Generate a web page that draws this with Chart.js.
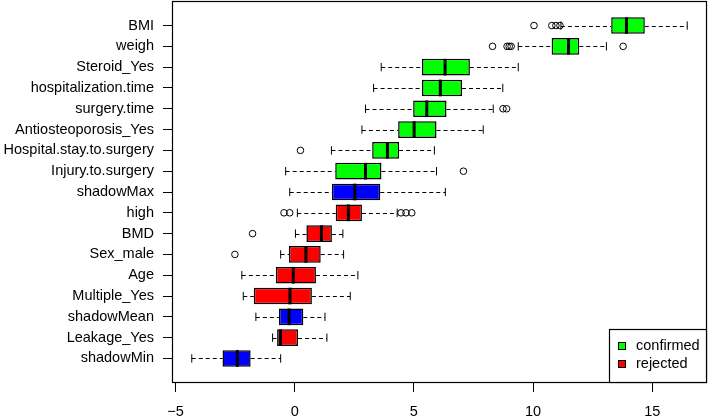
<!DOCTYPE html>
<html>
<head>
<meta charset="utf-8">
<script src="https://cdn.jsdelivr.net/npm/chart.js@4"></script>
<style>
  html, body { margin: 0; padding: 0; background: #fff; }
</style>
</head>
<body>
<canvas id="chart" width="709" height="416"></canvas>
<script>
// variables, listed top to bottom as in the figure
const labels = ["BMI", "weigh", "Steroid_Yes", "hospitalization.time", "surgery.time",
    "Antiosteoporosis_Yes", "Hospital.stay.to.surgery", "Injury.to.surgery", "shadowMax",
    "high", "BMD", "Sex_male", "Age", "Multiple_Yes", "shadowMean", "Leakage_Yes", "shadowMin"];
const decision = ["confirmed", "confirmed", "confirmed", "confirmed", "confirmed",
    "confirmed", "confirmed", "confirmed", "shadow",
    "rejected", "rejected", "rejected", "rejected", "rejected", "shadow", "rejected", "shadow"];

const whiskerLow = [11.17, 9.38, 3.63, 3.31, 2.97, 2.82, 1.54, -0.38, -0.21, 0.11, 0.03, -0.59, -2.22, -2.16, -1.63, -0.93, -4.32];
const q1 = [13.28, 10.78, 5.34, 5.34, 4.97, 4.34, 3.25, 1.70, 1.56, 1.72, 0.49, -0.24, -0.79, -1.72, -0.66, -0.74, -3.03];
const median = [13.92, 11.49, 6.31, 6.11, 5.54, 5.01, 3.89, 2.97, 2.52, 2.25, 1.12, 0.47, -0.06, -0.20, -0.24, -0.60, -2.41];
const q3 = [14.69, 11.94, 7.35, 7.02, 6.37, 5.95, 4.38, 3.64, 3.59, 2.82, 1.56, 1.09, 0.89, 0.72, 0.36, 0.14, -1.85];
const whiskerHigh = [16.47, 13.08, 9.38, 8.73, 8.33, 7.91, 5.86, 5.95, 6.32, 4.30, 2.02, 2.05, 2.65, 2.33, 1.27, 1.35, -0.59];
const outliers = [
    [10.04, 10.79, 10.96, 11.13],
    [8.30, 8.91, 9.00, 9.08, 13.78],
    [], [],
    [8.74, 8.89],
    [],
    [0.24],
    [7.08],
    [],
    [-0.45, -0.21, 4.46, 4.67, 4.91],
    [-1.77],
    [-2.51],
    [], [], [], [], []
];

const xTicks = [-5, 0, 5, 10, 15];
const legendLabels = ["confirmed", "rejected"];

const colors = { confirmed: "#00ff00", rejected: "#ff0000", shadow: "#0000ff" };
const FONT = "'Liberation Sans', Arial, Helvetica, sans-serif";
const FONT_SIZE = 14.5;

const n = labels.length;
const rowPos = i => n - i;   // BMI on top

function halfBox(ctx) {
    const y = ctx.chart.scales.y;
    return Math.abs(y.getPixelForValue(0.4) - y.getPixelForValue(0));
}

function noPadding(s) {
    s.paddingTop = 0;
    s.paddingBottom = 0;
    s.paddingLeft = 0;
    s.paddingRight = 0;
}

const boxExtras = {
    id: "boxExtras",
    beforeDatasetsDraw(chart) {
        const { ctx, scales: { x, y } } = chart;
        ctx.save();
        ctx.strokeStyle = "#000";
        ctx.lineWidth = 1;
        ctx.setLineDash([4, 3]);
        labels.forEach((name, i) => {
            const py = Math.round(y.getPixelForValue(rowPos(i))) + 0.5;
            ctx.beginPath();
            ctx.moveTo(x.getPixelForValue(whiskerLow[i]), py);
            ctx.lineTo(x.getPixelForValue(q1[i]), py);
            ctx.moveTo(x.getPixelForValue(q3[i]), py);
            ctx.lineTo(x.getPixelForValue(whiskerHigh[i]), py);
            ctx.stroke();
        });
        ctx.restore();
    },
    afterDraw(chart) {
        const { ctx, chartArea: a } = chart;
        ctx.save();
        ctx.strokeStyle = "#000";
        ctx.lineWidth = 1.2;
        ctx.strokeRect(a.left + 0.5, a.top + 0.5, a.right - a.left - 1, a.bottom - a.top - 1);

        // legend box, bottom right
        const bw = 98, bh = 54;
        const bx = a.right - bw, by = a.bottom - bh;
        ctx.fillStyle = "#fff";
        ctx.fillRect(bx, by, bw, bh);
        ctx.strokeRect(bx + 0.5, by + 0.5, bw - 1, bh - 1);
        ctx.lineWidth = 1;
        ctx.font = FONT_SIZE + "px " + FONT;
        ctx.textBaseline = "middle";
        ctx.textAlign = "left";
        legendLabels.forEach((lab, k) => {
            const cy = by + 17 + k * 18;
            ctx.fillStyle = colors[lab];
            ctx.fillRect(bx + 10, cy - 3, 6, 6);
            ctx.strokeRect(bx + 9.5, cy - 3.5, 7, 7);
            ctx.fillStyle = "#000";
            ctx.fillText(lab, bx + 27, cy);
        });
        ctx.restore();
    }
};

const outlierPoints = [];
outliers.forEach((vals, i) => vals.forEach(v => outlierPoints.push({ x: v, y: rowPos(i) })));

new Chart(document.getElementById("chart"), {
    type: "bar",
    data: {
        datasets: [
            {
                type: "bar",
                indexAxis: "y",
                data: labels.map((name, i) => ({ x: [q1[i], q3[i]], y: rowPos(i) })),
                backgroundColor: decision.map(d => colors[d]),
                borderColor: "#000",
                borderWidth: 1.5,
                borderSkipped: false,
                barPercentage: 0.8,
                categoryPercentage: 1.0,
                order: 3
            },
            {
                type: "scatter",
                data: labels.map((name, i) => ({ x: median[i], y: rowPos(i) })),
                pointStyle: "line",
                pointRotation: 90,
                pointRadius: halfBox,
                pointBorderWidth: 3,
                pointBorderColor: "#000",
                order: 2
            },
            {
                type: "scatter",
                data: labels.flatMap((name, i) => [
                    { x: whiskerLow[i], y: rowPos(i) },
                    { x: whiskerHigh[i], y: rowPos(i) }
                ]),
                pointStyle: "line",
                pointRotation: 90,
                pointRadius: ctx => halfBox(ctx) / 2,
                pointBorderWidth: 1,
                pointBorderColor: "#000",
                order: 2
            },
            {
                type: "scatter",
                data: outlierPoints,
                pointStyle: "circle",
                pointRadius: 3.3,
                pointBorderWidth: 1,
                pointBorderColor: "#000",
                pointBackgroundColor: "rgba(0,0,0,0)",
                order: 1
            }
        ]
    },
    options: {
        responsive: false,
        animation: false,
        devicePixelRatio: 1,
        events: [],
        layout: { autoPadding: false, padding: { top: 1, right: 2, left: 0, bottom: 0 } },
        plugins: {
            legend: { display: false },
            tooltip: { enabled: false }
        },
        scales: {
            x: {
                type: "linear",
                min: -5.15,
                max: 17.3,
                offset: false,
                afterBuildTicks: s => { s.ticks = xTicks.map(v => ({ value: v })); },
                afterFit: s => { s.height = 33; noPadding(s); },
                border: { display: false },
                grid: { drawOnChartArea: false, drawTicks: true, tickLength: 9, color: "#000", offset: false },
                ticks: {
                    color: "#000",
                    padding: 11,
                    maxRotation: 0,
                    font: { family: FONT, size: FONT_SIZE },
                    callback: v => (v < 0 ? "\u2212" + Math.abs(v) : String(v))
                }
            },
            y: {
                type: "linear",
                min: -0.18,
                max: 18.18,
                offset: false,
                afterBuildTicks: s => { s.ticks = labels.map((name, i) => ({ value: i + 1 })); },
                afterFit: s => { s.width = 172; noPadding(s); },
                border: { display: false },
                grid: { drawOnChartArea: false, drawTicks: true, tickLength: 9, color: "#000", offset: false },
                ticks: {
                    color: "#000",
                    padding: 9,
                    autoSkip: false,
                    font: { family: FONT, size: FONT_SIZE },
                    callback: v => labels[n - v]
                }
            }
        }
    },
    plugins: [boxExtras]
});
</script>
</body>
</html>
